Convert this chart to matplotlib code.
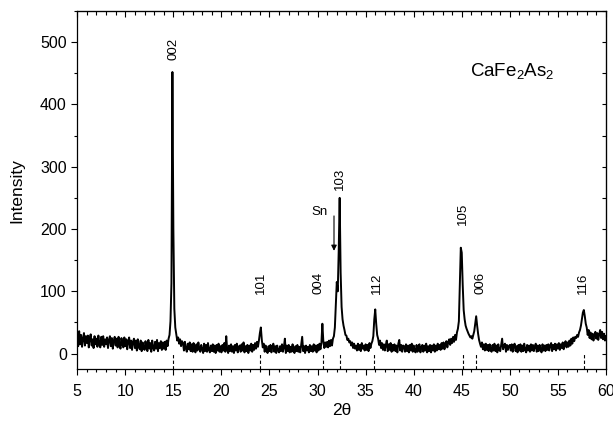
import numpy as np
import matplotlib
matplotlib.use("Agg")
import matplotlib.pyplot as plt
from matplotlib.ticker import MultipleLocator

plt.rcParams['font.family'] = ['Liberation Sans', 'DejaVu Sans']
plt.rcParams['mathtext.fontset'] = 'custom'
plt.rcParams['mathtext.rm'] = 'Liberation Sans'
plt.rcParams['mathtext.default'] = 'regular'

# 2theta grid, 0.1 deg steps from 5 to 60
two_theta = np.round(np.arange(5, 60.05, 0.1), 1)

# intensity, one row per degree (x.0 ... x.9)
intensity = [
    26, 12, 36, 15, 30, 11, 24, 33, 13, 28,      # 5
    17, 29, 10, 25, 31, 13, 23, 9, 28, 15,       # 6
    24, 11, 29, 16, 10, 27, 14, 28, 11, 23,      # 7
    15, 26, 9, 22, 28, 12, 25, 8, 21, 27,        # 8
    13, 24, 10, 27, 14, 8, 25, 15, 10, 26,       # 9
    12, 23, 7, 20, 26, 9, 21, 6, 19, 24,         # 10
    9, 21, 5, 23, 11, 7, 21, 4, 18, 10,          # 11
    6, 20, 9, 4, 22, 8, 17, 3, 21, 9,            # 12
    5, 19, 8, 22, 4, 17, 9, 20, 6, 18,           # 13
    8, 19, 6, 21, 12, 24, 30, 52, 113, 452,      # 14
    200, 72, 42, 32, 21, 26, 16, 23, 12, 20,     # 15
    17, 5, 19, 8, 3, 16, 7, 18, 4, 15,           # 16
    3, 17, 6, 2, 15, 5, 18, 8, 3, 14,            # 17
    7, 1, 16, 4, 14, 3, 17, 6, 2, 13,            # 18
    4, 15, 3, 13, 1, 14, 5, 16, 3, 12,           # 19
    2, 14, 5, 17, 3, 28, 6, 1, 13, 4,            # 20
    15, 3, 12, 1, 14, 5, 16, 2, 11, 13,          # 21
    3, 15, 5, 18, 2, 12, 4, 14, 1, 13,           # 22
    5, 16, 3, 14, 6, 17, 8, 19, 11, 21,          # 23
    33, 42, 22, 10, 16, 3, 13, 5, 1, 12,         # 24
    4, 14, 2, 11, 16, 3, 12, 1, 13, 5,           # 25
    2, 12, 4, 15, 3, 11, 24, 1, 13, 4,           # 26
    14, 2, 11, 3, 15, 5, 1, 12, 4, 14,           # 27
    3, 11, 2, 14, 27, 4, 12, 1, 13, 5,           # 28
    11, 2, 14, 4, 12, 3, 15, 5, 13, 2,           # 29
    14, 5, 16, 7, 17, 48, 20, 9, 18, 11,         # 30
    19, 10, 21, 12, 22, 13, 24, 28, 42, 80,      # 31
    115, 100, 165, 250, 130, 75, 55, 45, 38, 30, # 32
    29, 22, 24, 18, 20, 13, 18, 9, 16, 8,        # 33
    13, 5, 16, 6, 14, 4, 17, 8, 13, 5,           # 34
    15, 6, 14, 4, 17, 9, 16, 20, 28, 55,         # 35
    71, 48, 30, 24, 14, 21, 9, 17, 6, 15,        # 36
    5, 14, 21, 4, 15, 6, 17, 3, 14, 5,           # 37
    15, 4, 13, 2, 16, 22, 5, 14, 3, 13,          # 38
    12, 3, 15, 4, 13, 2, 14, 5, 16, 3,           # 39
    13, 4, 2, 14, 3, 12, 15, 2, 11, 14,          # 40
    3, 13, 5, 16, 2, 12, 4, 14, 2, 13,           # 41
    5, 15, 3, 13, 5, 16, 7, 14, 6, 17,           # 42
    8, 18, 7, 16, 20, 10, 19, 23, 14, 24,        # 43
    17, 27, 19, 30, 22, 34, 40, 52, 114, 170,    # 44
    162, 110, 70, 55, 45, 40, 36, 32, 29, 26,    # 45
    28, 24, 30, 36, 48, 60, 45, 32, 22, 16,      # 46
    11, 18, 7, 15, 5, 16, 6, 14, 4, 15,          # 47
    6, 3, 14, 5, 16, 4, 13, 2, 15, 6,            # 48
    4, 14, 24, 7, 13, 16, 3, 14, 6, 12,          # 49
    14, 5, 15, 3, 13, 16, 4, 12, 2, 14,          # 50
    5, 15, 3, 13, 4, 16, 6, 2, 14, 5,            # 51
    13, 3, 15, 5, 14, 4, 12, 16, 3, 13,          # 52
    4, 14, 6, 2, 15, 5, 13, 4, 14, 6,            # 53
    15, 5, 13, 17, 4, 14, 7, 16, 5, 15,          # 54
    8, 17, 6, 15, 9, 18, 7, 16, 20, 10,          # 55
    18, 11, 21, 13, 24, 16, 26, 20, 27, 25,      # 56
    30, 27, 34, 38, 45, 55, 66, 70, 60, 48,      # 57
    42, 30, 38, 25, 34, 23, 32, 21, 31, 35,      # 58
    24, 33, 22, 31, 38, 25, 35, 23, 32, 21,      # 59
    28,                                          # 60
]

# reflection markers (dashed lines under the baseline)
ref_pos = [15.0, 24.0, 30.54, 32.34, 35.9, 45.1, 46.49, 57.73]

# hkl labels: text, x, bottom of label
hkl_text = ["002", "101", "004", "103", "112", "105", "006", "116"]
hkl_x = [14.97, 24.08, 30.05, 32.34, 36.15, 45.1, 46.9, 57.6]
hkl_y = [471, 95, 95, 263, 95, 207, 95, 95]

fig = plt.figure(figsize=(6.13, 4.21), dpi=100)
ax = fig.add_axes([0.126, 0.123, 0.8625, 0.851])

ax.plot(two_theta, intensity, color="black", lw=1.4)
ax.vlines(ref_pos, -25, 0, colors="black", linestyles=(0, (3, 2)), lw=0.8)

for t, x, y in zip(hkl_text, hkl_x, hkl_y):
    ax.text(x, y, t, rotation=90, ha="center", va="bottom", fontsize=9.5)

# Sn impurity arrow
ax.annotate("", xy=(31.71, 165), xytext=(31.71, 221),
            arrowprops=dict(arrowstyle="-|>", color="black", lw=0.8,
                            mutation_scale=8, shrinkA=0, shrinkB=0))
ax.text(30.16, 228, "Sn", ha="center", va="center", fontsize=9.5)

ax.text(45.9, 445, "CaFe$_2$As$_2$", ha="left", va="baseline", fontsize=13.5)

ax.set_xlim(5, 60)
ax.set_ylim(-25, 550)
ax.xaxis.set_major_locator(MultipleLocator(5))
ax.xaxis.set_minor_locator(MultipleLocator(1))
ax.yaxis.set_major_locator(MultipleLocator(100))
ax.yaxis.set_minor_locator(MultipleLocator(50))
ax.set_yticks(range(0, 501, 100))

ax.tick_params(axis="both", which="both", labelsize=11.5, width=0.8)
ax.tick_params(axis="both", which="major", length=4.5, direction="out")
ax.tick_params(axis="both", which="minor", length=2.5, direction="out")
ax.tick_params(axis="x", which="major", pad=6)
ax.tick_params(axis="y", which="major", pad=3)

# inward ticks on top and right
top = ax.secondary_xaxis("top")
top.set_xticks(range(5, 61, 5))
top.xaxis.set_minor_locator(MultipleLocator(1))
top.tick_params(which="both", direction="in", labeltop=False, width=0.8)
top.tick_params(which="major", length=4)
top.tick_params(which="minor", length=3)
right = ax.secondary_yaxis("right")
right.set_yticks(range(0, 501, 100))
right.yaxis.set_minor_locator(MultipleLocator(50))
right.tick_params(which="both", direction="in", labelright=False, width=0.8, length=3)

for s in ax.spines.values():
    s.set_linewidth(0.9)

ax.set_xlabel("2\u03b8", fontsize=12.5, labelpad=3)
ax.set_ylabel("Intensity", fontsize=12.5, labelpad=11)

fig.savefig("out.png", dpi=100)
